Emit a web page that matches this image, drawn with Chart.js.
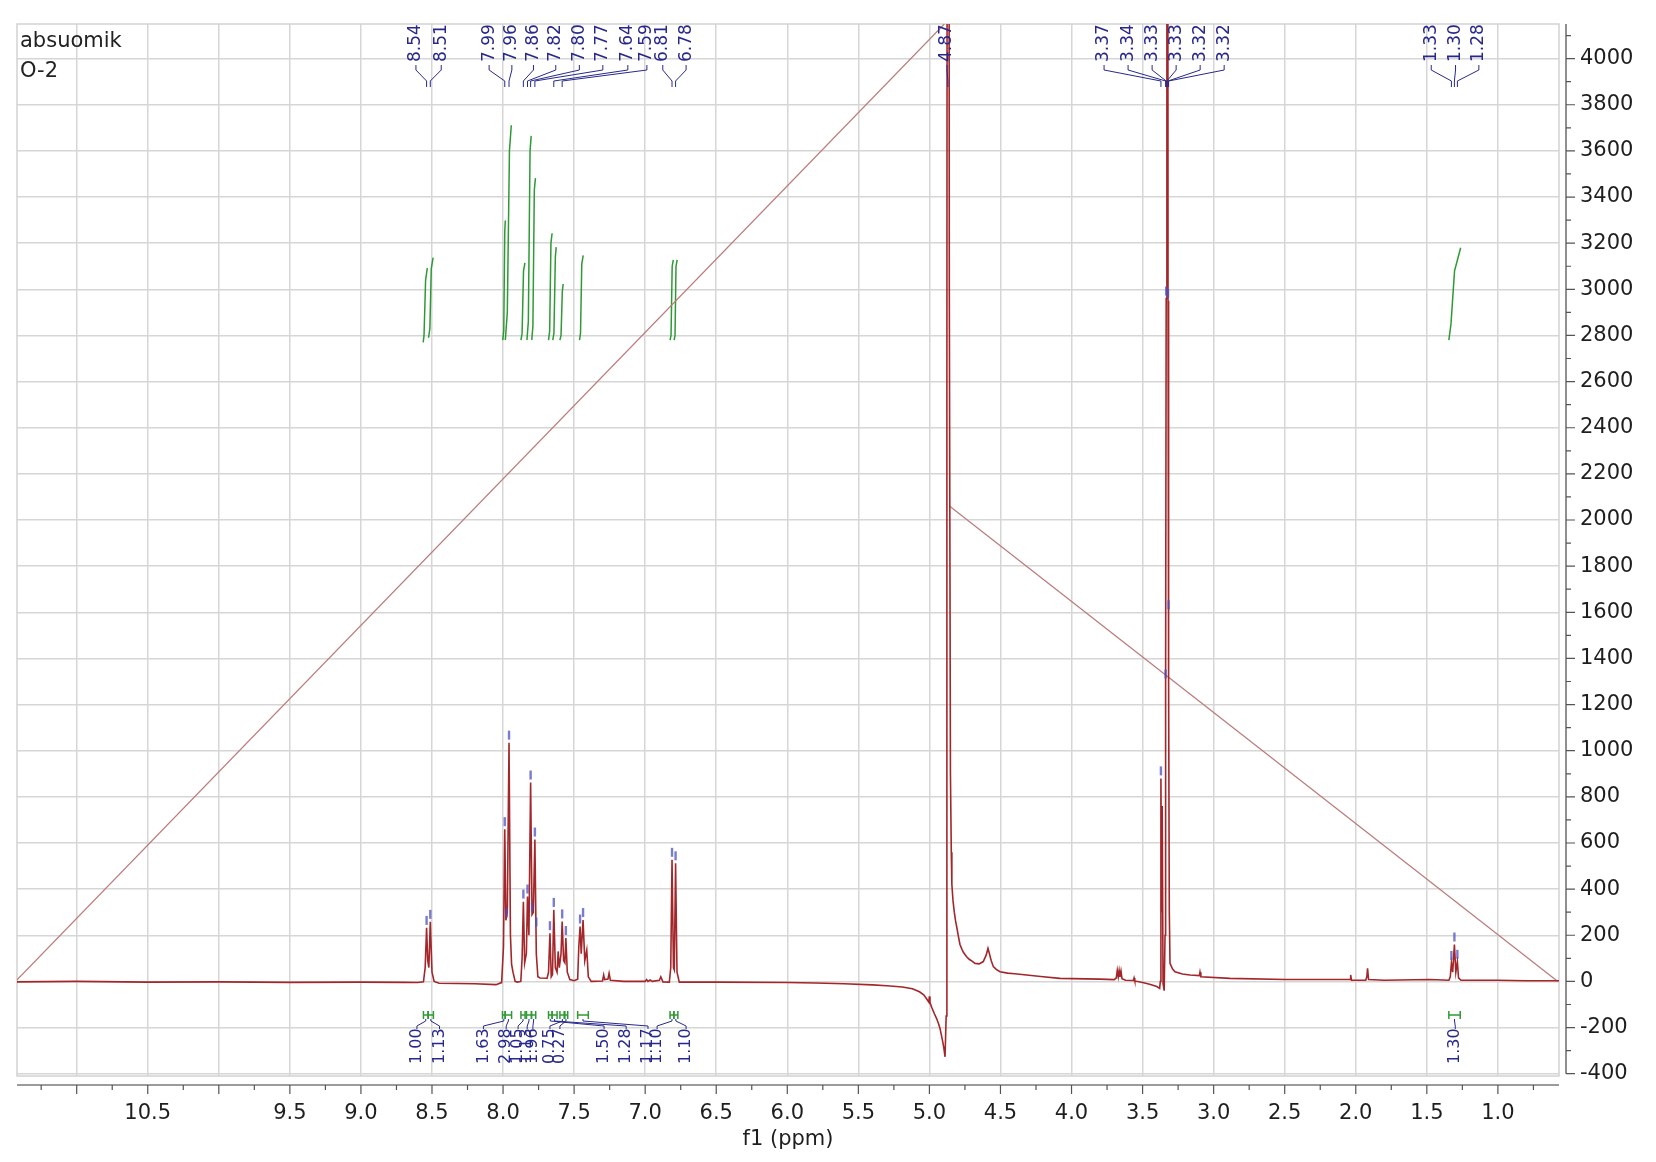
<!DOCTYPE html>
<html><head><meta charset="utf-8">
<script src="https://cdn.jsdelivr.net/npm/chart.js@4.4.1/dist/chart.umd.min.js"></script>
<style>html,body{margin:0;padding:0;background:#fff;}#wrap{width:1656px;height:1162px;}</style>
</head><body><div id="wrap"><canvas id="c" width="1656" height="1162"></canvas></div>
<script>
// ---------------- data ----------------
const titleLines = ['absuomik', 'O-2'];
const xTitle = 'f1 (ppm)';
const xTickValues = [11.0,10.5,10.0,9.5,9.0,8.5,8.0,7.5,7.0,6.5,6.0,5.5,5.0,4.5,4.0,3.5,3.0,2.5,2.0,1.5,1.0];
const xTickLabels = ['','10.5','','9.5','9.0','8.5','8.0','7.5','7.0','6.5','6.0','5.5','5.0','4.5','4.0','3.5','3.0','2.5','2.0','1.5','1.0'];
const yTickValues = [-400,-200,0,200,400,600,800,1000,1200,1400,1600,1800,2000,2200,2400,2600,2800,3000,3200,3400,3600,3800,4000];

// spectrum trace (ppm, intensity)
const specPPM = [11.42,11.0,10.5,10.0,9.5,9.0,8.7,8.6,8.56,8.548,8.538,8.530,8.522,8.512,8.500,8.485,8.45,8.2,8.05,8.01,
 7.997,7.988,7.980,7.970,7.958,7.948,7.940,7.930,7.915,7.90,7.875,7.866,7.857,7.848,7.836,7.828,7.818,7.806,7.796,7.787,
 7.776,7.766,7.755,7.74,7.69,7.680,7.670,7.661,7.652,7.643,7.632,7.620,7.612,7.604,7.592,7.584,7.574,7.565,7.558,7.548,7.53,
 7.50,7.475,7.467,7.458,7.450,7.437,7.425,7.411,7.400,7.38,7.30,7.292,7.285,7.262,7.254,7.245,7.15,7.00,6.99,6.98,
 6.965,6.95,6.90,6.89,6.875,6.83,6.82,6.811,6.801,6.795,6.786,6.776,6.76,6.5,6.0,5.8,5.6,5.4,5.3,5.19,5.12,5.07,5.04,5.02,5.004,
 5.0,4.996,4.984,4.965,4.95,4.935,4.925,4.915,4.905,4.897,4.89,4.882,4.877,4.872,4.866,4.860,4.852,4.846,4.842,4.834,4.825,4.816,4.808,4.796,4.785,4.77,4.76,4.738,4.72,4.70,
 4.679,4.65,4.621,4.60,4.588,4.580,4.565,4.55,4.53,4.503,4.45,4.40,4.316,4.20,4.081,3.90,3.80,3.70,3.685,3.678,3.671,3.665,3.659,3.652,
 3.645,3.62,3.565,3.56,3.555,3.50,3.45,3.40,3.38,3.375,3.371,3.366,3.362,3.356,3.348,3.342,3.338,3.334,3.329,3.325,
 3.321,3.317,3.312,3.307,3.29,3.272,3.22,3.167,3.10,3.096,3.09,2.885,2.5,2.2,2.04,2.036,2.03,1.93,1.922,1.917,
 1.910,1.80,1.479,1.345,1.335,1.327,1.318,1.306,1.296,1.285,1.277,1.26,1.0,0.8,0.57];
const specInt = [-2,0,-3,-2,-4,-3,-4,-5,-2,60,232,90,60,258,40,0,-8,-10,-14,-5,
 150,660,265,300,1035,200,75,40,0,-3,0,100,345,80,120,368,200,862,290,300,
 615,120,20,15,14,40,209,20,30,310,60,40,130,60,120,260,90,80,188,40,8,
 3,10,150,238,120,266,90,136,20,0,2,28,8,10,35,5,0,0,8,0,
 6,0,5,20,-2,-3,60,527,60,50,512,40,-3,-3,-5,-7,-10,-15,-19,-24,-32,-45,-58,-75,-90,
 -65,-92,-112,-140,-160,-185,-205,-235,-265,-295,-327,-150,2500,9000,9000,3000,900,560,420,350,300,262,237,195,160,138,125,107,96,88,
 78,76,86,115,143,125,90,64,52,42,36,33,28,20,13,11,10,8,15,48,20,47,20,45,
 12,5,4,15,2,-5,-12,-22,-30,0,880,300,760,-10,-40,200,1300,2960,9000,9000,
 2950,1300,300,78,55,42,32,28,25,40,20,13,8,8,8,28,5,5,20,57,
 8,5,8,5,20,80,40,160,40,85,15,5,5,3,3];

// straight reference lines (ppm, intensity)
const diagA_PPM = [11.43, 4.895];
const diagA_Int = [0, 4150];
const diagB_PPM = [4.857, 0.578];
const diagB_Int = [2060, 0];

// picked peaks: label text, true position, label anchor position (ppm)
const peakLabels = ['8.54','8.51','7.99','7.96','7.86','7.82','7.80','7.77','7.64','7.59','6.81','6.78','4.87','3.37','3.34','3.33','3.33','3.32','3.32','1.33','1.30','1.28'];
const peakPPM = [8.538,8.512,7.988,7.958,7.857,7.828,7.806,7.776,7.643,7.584,6.811,6.786,4.870,3.371,3.338,3.334,3.329,3.321,3.317,1.327,1.306,1.285];
const peakLabelAt = [8.613,8.435,8.098,7.938,7.786,7.629,7.463,7.298,7.122,6.988,6.876,6.712,4.876,3.771,3.602,3.433,3.264,3.095,2.926,1.469,1.298,1.134];

// small peak markers drawn above peak tops (ppm, intensity)
const markPPM = [8.538,8.512,7.988,7.975,7.958,7.857,7.828,7.806,7.796,7.776,7.766,7.670,7.643,7.584,7.558,7.458,7.437,6.811,6.786,3.371,3.338,3.334,3.321,3.317,1.327,1.306,1.285];
const markInt = [232,258,660,265,1035,346,368,862,290,615,225,209,310,260,188,238,266,527,512,880,1300,2960,2950,1600,80,160,85];

// integral curves: each is a short polyline (ppm, level)
const intCurvePPM = [
  [8.562,8.556,8.545,8.533], [8.524,8.515,8.505,8.492],
  [8.002,7.995,7.988,7.984], [7.984,7.970,7.955,7.942],
  [7.874,7.866,7.856,7.846], [7.832,7.822,7.810,7.802], [7.798,7.790,7.780,7.772],
  [7.680,7.672,7.663,7.655], [7.650,7.642,7.632,7.626], [7.600,7.592,7.583,7.577],
  [7.462,7.455,7.446,7.436], [6.825,6.818,6.810,6.802], [6.796,6.790,6.783,6.775],
  [1.345,1.330,1.305,1.262]];
const intCurveLvl = [
  [2770,2800,3040,3092], [2790,2830,3090,3137],
  [2780,2820,3250,3298], [2780,2900,3600,3711],
  [2780,2810,3080,3115], [2780,2860,3600,3665], [2780,2840,3430,3482],
  [2780,2820,3200,3243], [2780,2810,3140,3183], [2780,2800,2990,3023],
  [2780,2810,3110,3147], [2780,2800,3100,3128], [2780,2800,3100,3128],
  [2780,2850,3080,3180]];

// integral marks on the baseline and their value labels
const intFrom = [8.560,8.526,8.004,7.985,7.874,7.835,7.800,7.680,7.655,7.600,7.570,7.475,6.825,6.798,1.345];
const intTo   = [8.528,8.490,7.985,7.940,7.845,7.800,7.770,7.655,7.620,7.565,7.545,7.400,6.798,6.770,1.265];
const intLabels = ['1.00','1.13','1.63','2.98','1.05','1.13','1.96','1.50','1.28','0.75','0.27','1.17','1.10','1.10','1.30'];
const intLabelAt = [8.606,8.447,8.138,7.978,7.894,7.830,7.790,7.289,7.134,7.670,7.600,6.980,6.916,6.712,1.300];

// ---------------- chart ----------------
const FONT = '"DejaVu Sans", Verdana, sans-serif';
const NAVY = '#28288c';
const GREEN = '#2f9a35';
const pts = (xs, ys) => xs.map((x, i) => ({x: x, y: ys[i]}));

const datasets = [
  {data: pts(specPPM, specInt), borderColor: '#a3262a', borderWidth: 1.6, order: 0},
  {data: pts(diagA_PPM, diagA_Int), borderColor: '#bb7a7a', borderWidth: 1.2, order: 1},
  {data: pts(diagB_PPM, diagB_Int), borderColor: '#bb7a7a', borderWidth: 1.2, order: 1}
];
intCurvePPM.forEach((c, i) => {
  datasets.push({data: pts(c, intCurveLvl[i]), borderColor: GREEN, borderWidth: 1.5, order: 2});
});
datasets.forEach(d => { d.pointRadius = 0; d.tension = 0; d.fill = false; });

const noPad = s => { s.paddingTop = 0; s.paddingBottom = 0; s.paddingLeft = 0; s.paddingRight = 0; };

const decor = {
  id: 'decor',
  beforeDatasetsDraw(chart) {
    const {ctx, chartArea: a} = chart;
    ctx.save();
    ctx.strokeStyle = '#d2d2d2'; ctx.lineWidth = 1.5;
    ctx.strokeRect(a.left, a.top, a.right - a.left, a.bottom - a.top);
    ctx.restore();
  },
  afterDatasetsDraw(chart) {
    const {ctx, chartArea: a, scales: {x, y}} = chart;
    ctx.save();
    // peak markers
    ctx.fillStyle = 'rgba(80,80,190,0.75)';
    markPPM.forEach((p, i) => {
      const px = x.getPixelForValue(p), py = y.getPixelForValue(markInt[i]);
      if (py - 12 > a.top) ctx.fillRect(px - 1.2, py - 12, 2.4, 9);
    });
    // peak labels
    ctx.font = '17px ' + FONT; ctx.fillStyle = NAVY; ctx.strokeStyle = NAVY; ctx.lineWidth = 1;
    peakLabels.forEach((t, i) => {
      const lx = x.getPixelForValue(peakLabelAt[i]), px = x.getPixelForValue(peakPPM[i]);
      ctx.save(); ctx.translate(lx, a.top + 38); ctx.rotate(-Math.PI / 2);
      ctx.textAlign = 'left'; ctx.textBaseline = 'middle'; ctx.fillText(t, 0, 0); ctx.restore();
      ctx.beginPath(); ctx.moveTo(lx, a.top + 41); ctx.lineTo(lx, a.top + 46);
      ctx.lineTo(px, a.top + 57); ctx.lineTo(px, a.top + 63); ctx.stroke();
    });
    // integral marks + labels
    ctx.font = '16px ' + FONT;
    intFrom.forEach((f, i) => {
      const x1 = x.getPixelForValue(f), x2 = x.getPixelForValue(intTo[i]);
      const cx = (x1 + x2) / 2, lx = x.getPixelForValue(intLabelAt[i]);
      const my = a.bottom - 61;
      ctx.strokeStyle = GREEN; ctx.lineWidth = 1.5;
      ctx.beginPath();
      ctx.moveTo(x1, my - 4); ctx.lineTo(x1, my + 4);
      ctx.moveTo(x2, my - 4); ctx.lineTo(x2, my + 4);
      ctx.moveTo(x1, my); ctx.lineTo(x2, my); ctx.stroke();
      ctx.strokeStyle = NAVY; ctx.lineWidth = 1;
      ctx.beginPath(); ctx.moveTo(cx, my + 4); ctx.lineTo(cx, my + 6);
      ctx.lineTo(lx, my + 11); ctx.lineTo(lx, my + 14); ctx.stroke();
      ctx.save(); ctx.translate(lx, a.bottom - 12); ctx.rotate(-Math.PI / 2);
      ctx.textAlign = 'left'; ctx.textBaseline = 'middle'; ctx.fillStyle = NAVY;
      ctx.fillText(intLabels[i], 0, 0); ctx.restore();
    });
    ctx.restore();
  },
  afterDraw(chart) {
    const {ctx, chartArea: a, scales: {x, y}} = chart;
    ctx.save();
    // x axis line + ticks
    const ay = a.bottom + 9;
    ctx.strokeStyle = '#7a7a7a'; ctx.lineWidth = 1.5;
    ctx.beginPath(); ctx.moveTo(a.left, ay); ctx.lineTo(a.right, ay); ctx.stroke();
    ctx.strokeStyle = '#555'; ctx.lineWidth = 1.2; ctx.beginPath();
    xTickValues.forEach(v => {
      const px = x.getPixelForValue(v);
      ctx.moveTo(px, ay); ctx.lineTo(px, ay + 9);
      const pm = x.getPixelForValue(v - 0.25);
      if (pm > a.left && pm < a.right) { ctx.moveTo(pm, ay); ctx.lineTo(pm, ay + 5); }
    });
    const p115 = x.getPixelForValue(11.25);
    if (p115 > a.left) { ctx.moveTo(p115, ay); ctx.lineTo(p115, ay + 5); }
    ctx.stroke();
    // y axis line + ticks
    const ax = a.right + 7;
    const yb = y.getPixelForValue(-400);
    ctx.strokeStyle = '#6a6a6a'; ctx.lineWidth = 1.5;
    ctx.beginPath(); ctx.moveTo(ax, a.top); ctx.lineTo(ax, yb); ctx.stroke();
    ctx.strokeStyle = '#555'; ctx.lineWidth = 1.2; ctx.beginPath();
    yTickValues.forEach(v => {
      const py = y.getPixelForValue(v);
      ctx.moveTo(ax, py); ctx.lineTo(ax + 9, py);
      const pm = y.getPixelForValue(v + 100);
      if (pm > a.top) { ctx.moveTo(ax, pm); ctx.lineTo(ax + 5, pm); }
    });
    ctx.stroke();
    // sample title
    ctx.fillStyle = '#222'; ctx.font = '21px ' + FONT; ctx.textAlign = 'left'; ctx.textBaseline = 'alphabetic';
    ctx.fillText(titleLines[0], a.left + 3, a.top + 23);
    ctx.fillText(titleLines[1], a.left + 3, a.top + 53);
    ctx.restore();
  }
};

new Chart(document.getElementById('c'), {
  type: 'line',
  data: {datasets},
  options: {
    responsive: false, animation: false, events: [],
    layout: {padding: {left: 17, top: 24, right: 0, bottom: 0}},
    plugins: {legend: {display: false}, tooltip: {enabled: false}},
    scales: {
      x: {
        type: 'linear', reverse: true, min: 0.57, max: 11.42,
        afterBuildTicks: s => { s.ticks = xTickValues.map(v => ({value: v})); },
        afterFit: s => { s.height = 86; noPad(s); },
        ticks: {autoSkip: false, maxRotation: 0, padding: 25, color: '#1e1e1e', font: {family: FONT, size: 21},
                callback: (v, i) => xTickLabels[i]},
        grid: {color: '#d6d6d6', lineWidth: 1.5, drawTicks: false},
        border: {display: false},
        title: {display: true, text: xTitle, color: '#1e1e1e', font: {family: FONT, size: 21}, padding: {top: 0, bottom: 10}}
      },
      y: {
        type: 'linear', position: 'right', min: -410, max: 4150,
        afterBuildTicks: s => { s.ticks = yTickValues.map(v => ({value: v})); },
        afterFit: s => { s.width = 97; noPad(s); },
        ticks: {padding: 21, color: '#1e1e1e', font: {family: FONT, size: 21}, callback: v => String(v)},
        grid: {color: '#d6d6d6', lineWidth: 1.5, drawTicks: false},
        border: {display: false}
      }
    }
  },
  plugins: [decor]
});
</script>
</body></html>
